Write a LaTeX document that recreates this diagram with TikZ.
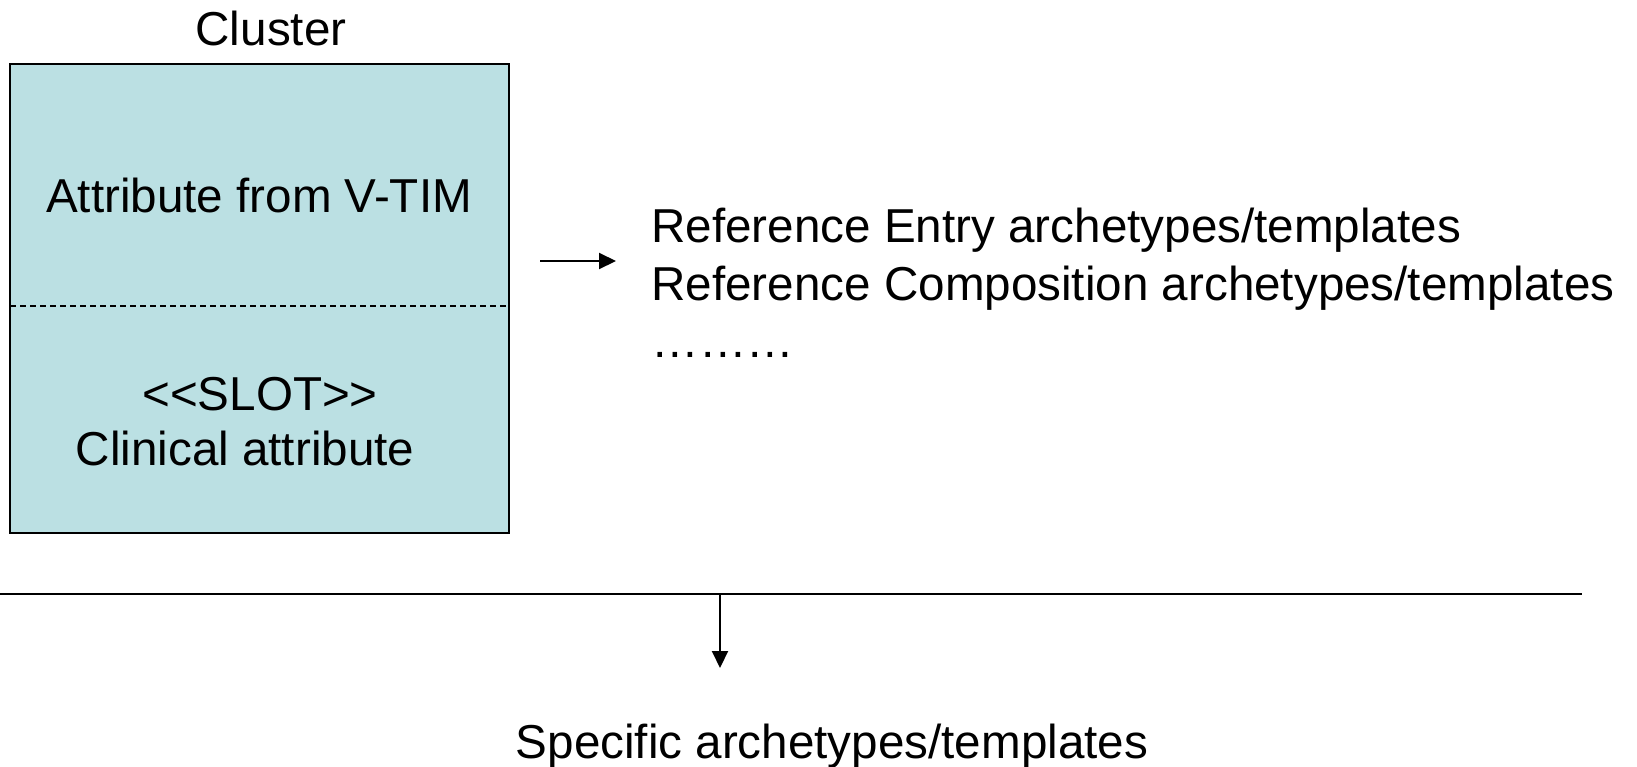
\documentclass[tikz,border=0pt]{standalone}
\usepackage{fontspec}
\setmainfont{Liberation Sans}
\usetikzlibrary{arrows.meta}
\definecolor{slotblue}{HTML}{BBE0E3}
\tikzset{
    clbox/.style={draw=black,fill=slotblue,line width=1pt},
    sep/.style={draw,line width=0.7pt,dash pattern=on 3pt off 2pt},
    txt/.style={inner sep=0pt,font=\fontsize{23.8}{28}\selectfont},
    arr/.style={draw,line width=1pt,-{Triangle[length=8.5pt,width=8pt]}},
    rule/.style={draw,line width=1pt},
}
\begin{document}
\begin{tikzpicture}[x=0.5pt,y=-0.5pt]
\useasboundingbox (0,0) rectangle (1637,766);
% cluster box
\draw[clbox] (10,64) rectangle (509,533);
\coordinate (sl) at (10,306);
\coordinate (sr) at (509,306);
\path[sep] (sl) -- (sr);
\node[txt,anchor=base] (cluster) at (271,45)  {Cluster};
\node[txt,anchor=base] (attr)    at (259,212) {Attribute from V-TIM};
\node[txt,anchor=base] (slot)    at (260,410) {<{}<SLOT>{}>};
\node[txt,anchor=base] (clin)    at (245,465) {Clinical attribute};
% reference archetypes
\node[txt,anchor=base west] (refent)  at (651,242) {Reference Entry archetypes/templates};
\node[txt,anchor=base west] (refcomp) at (651,300) {Reference Composition archetypes/templates};
\node[txt,anchor=base west] (dots)    at (651,357) {………};
\node[txt,anchor=base] (spec) at (832,758) {Specific archetypes/templates};
\coordinate (a1) at (540,261);
\coordinate (a2) at (616,261);
\coordinate (l1) at (0,594);
\coordinate (l2) at (1582,594);
\coordinate (d1) at (720,594);
\coordinate (d2) at (720,668);
\path[rule] (l1) -- (l2);
\path[arr] (a1) -- (a2);
\path[arr] (d1) -- (d2);
\end{tikzpicture}
\end{document}
